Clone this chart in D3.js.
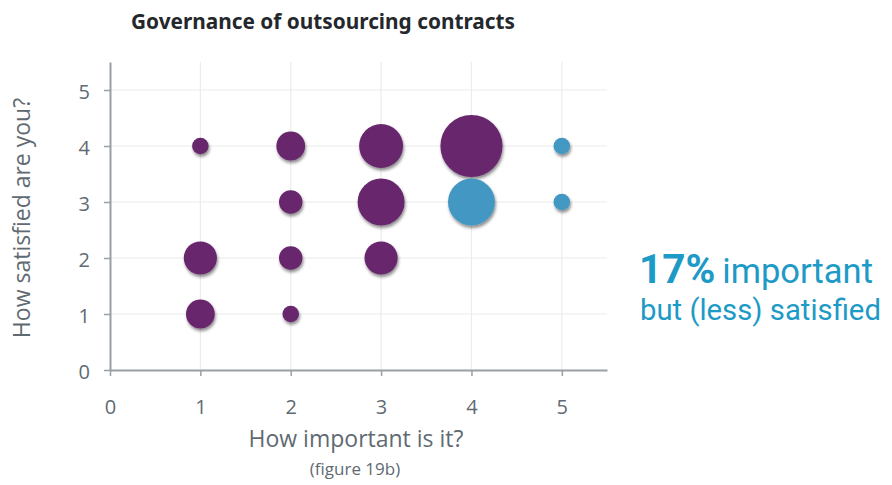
<!DOCTYPE html>
<html>
<head>
<meta charset="utf-8">
<script src="https://cdn.jsdelivr.net/npm/d3@7"></script>
<style>
  html, body { margin: 0; padding: 0; background: #fff; }
  svg { display: block; font-family: "Open Sans", "Noto Sans", sans-serif; }
</style>
</head>
<body>
<svg id="chart" width="892" height="485"></svg>
<script>
// Survey responses: importance (x) vs satisfaction (y), bubble size = respondent count
const importance   = [1, 2, 3, 4, 5, 2, 3, 4, 5, 1, 2, 3, 1, 2];
const satisfaction = [4, 4, 4, 4, 4, 3, 3, 3, 3, 2, 2, 2, 1, 1];
const respondents  = [1, 3, 7, 14, 1, 2, 8, 8, 1, 4, 2, 4, 3, 1];
// highlighted group: important but (less) satisfied
const highlighted  = [false, false, false, false, true, false, false, true, true, false, false, false, false, false];
const xTicks = [0, 1, 2, 3, 4, 5];
const yTicks = [0, 1, 2, 3, 4, 5];

const purple = "#67266d";
const blue = "#4397c3";
const axisGrey = "#9a9fa3";
const textGrey = "#5f6a72";
const calloutBlue = "#1d9ac6";

const svg = d3.select("#chart");

const x = d3.scaleLinear().domain([0, 5.5]).range([110, 607]);
const y = d3.scaleLinear().domain([0, 5.5]).range([370, 62]);
const r = d3.scaleSqrt().domain([0, 1]).range([0, 8.3]);

// soft drop shadow under bubbles
const defs = svg.append("defs");
const f = defs.append("filter").attr("id", "shadow")
  .attr("x", "-30%").attr("y", "-30%").attr("width", "160%").attr("height", "160%");
f.append("feDropShadow").attr("dx", 1).attr("dy", 2.5).attr("stdDeviation", 1.6)
  .attr("flood-color", "#000").attr("flood-opacity", 0.45);

// gridlines
const grid = svg.append("g");
grid.selectAll("line.v").data(xTicks.slice(1)).join("line")
  .attr("x1", d => x(d)).attr("x2", d => x(d))
  .attr("y1", y(5.5)).attr("y2", y(0))
  .attr("stroke", "#ececec").attr("stroke-width", 1.2);
grid.selectAll("line.h").data(yTicks.slice(1)).join("line")
  .attr("x1", x(0)).attr("x2", x(5.5))
  .attr("y1", d => y(d)).attr("y2", d => y(d))
  .attr("stroke", "#ececec").attr("stroke-width", 1.2);

// axes
const xAxis = d3.axisBottom(x).tickValues(xTicks).tickFormat(d3.format("d"))
  .tickSizeInner(6).tickSizeOuter(0).tickPadding(24);
const yAxis = d3.axisLeft(y).tickValues(yTicks).tickFormat(d3.format("d"))
  .tickSizeInner(6).tickSizeOuter(0).tickPadding(14);

const gx = svg.append("g").attr("transform", `translate(0,${y(0)})`).call(xAxis);
const gy = svg.append("g").attr("transform", `translate(${x(0)},0)`).call(yAxis);
[gx, gy].forEach(g => {
  g.select(".domain").attr("stroke", axisGrey).attr("stroke-width", 2);
  g.selectAll(".tick line").attr("stroke", axisGrey).attr("stroke-width", 1.5);
  g.selectAll(".tick text").attr("fill", textGrey)
    .style("font-size", "20px").style("font-family", "'Open Sans', sans-serif");
});
gy.selectAll(".tick text").attr("dy", "0.4em");

// bubbles
const pts = importance.map((d, i) => ({
  x: d, y: satisfaction[i], n: respondents[i], hi: highlighted[i]
}));
svg.append("g").selectAll("circle").data(pts).join("circle")
  .attr("cx", d => x(d.x)).attr("cy", d => y(d.y))
  .attr("r", d => r(d.n))
  .attr("fill", d => d.hi ? blue : purple)
  .attr("filter", "url(#shadow)");

// titles and labels
svg.append("text").attr("x", 323).attr("y", 29).attr("text-anchor", "middle")
  .attr("fill", "#24272b").style("font-weight", "700").style("font-size", "20.8px")
  .style("font-family", "'Noto Sans', sans-serif")
  .text("Governance of outsourcing contracts");

svg.append("text").attr("transform", `translate(30,218) rotate(-90)`)
  .attr("text-anchor", "middle").attr("fill", textGrey).style("font-size", "23px")
  .text("How satisfied are you?");

svg.append("text").attr("x", 356).attr("y", 447).attr("text-anchor", "middle")
  .attr("fill", textGrey).style("font-size", "23px")
  .text("How important is it?");

svg.append("text").attr("x", 355).attr("y", 475).attr("text-anchor", "middle")
  .attr("fill", textGrey).style("font-size", "17px")
  .text("(figure 19b)");

// callout, two lines; each line sized to its target width
function fitLine(sel, targetWidth) {
  const w = sel.node().getComputedTextLength();
  const k = targetWidth / w;
  sel.selectAll("tspan").each(function () {
    const s = parseFloat(this.style.fontSize);
    d3.select(this).style("font-size", (s * k).toFixed(2) + "px");
  });
  if (sel.selectAll("tspan").empty()) {
    const s = parseFloat(sel.style("font-size"));
    sel.style("font-size", (s * k).toFixed(2) + "px");
  }
}
const line1 = svg.append("text").attr("x", 639).attr("y", 283)
  .attr("fill", calloutBlue).style("font-family", "Roboto, sans-serif");
line1.append("tspan").style("font-weight", "700").style("font-size", "34px").text("17%");
line1.append("tspan").attr("dx", 7).style("font-size", "29px").text("important");
fitLine(line1, 227);

const line2 = svg.append("text").attr("x", 640).attr("y", 320)
  .attr("fill", calloutBlue).style("font-family", "Roboto, sans-serif")
  .style("font-size", "29px").text("but (less) satisfied");
fitLine(line2, 241);
</script>
</body>
</html>
